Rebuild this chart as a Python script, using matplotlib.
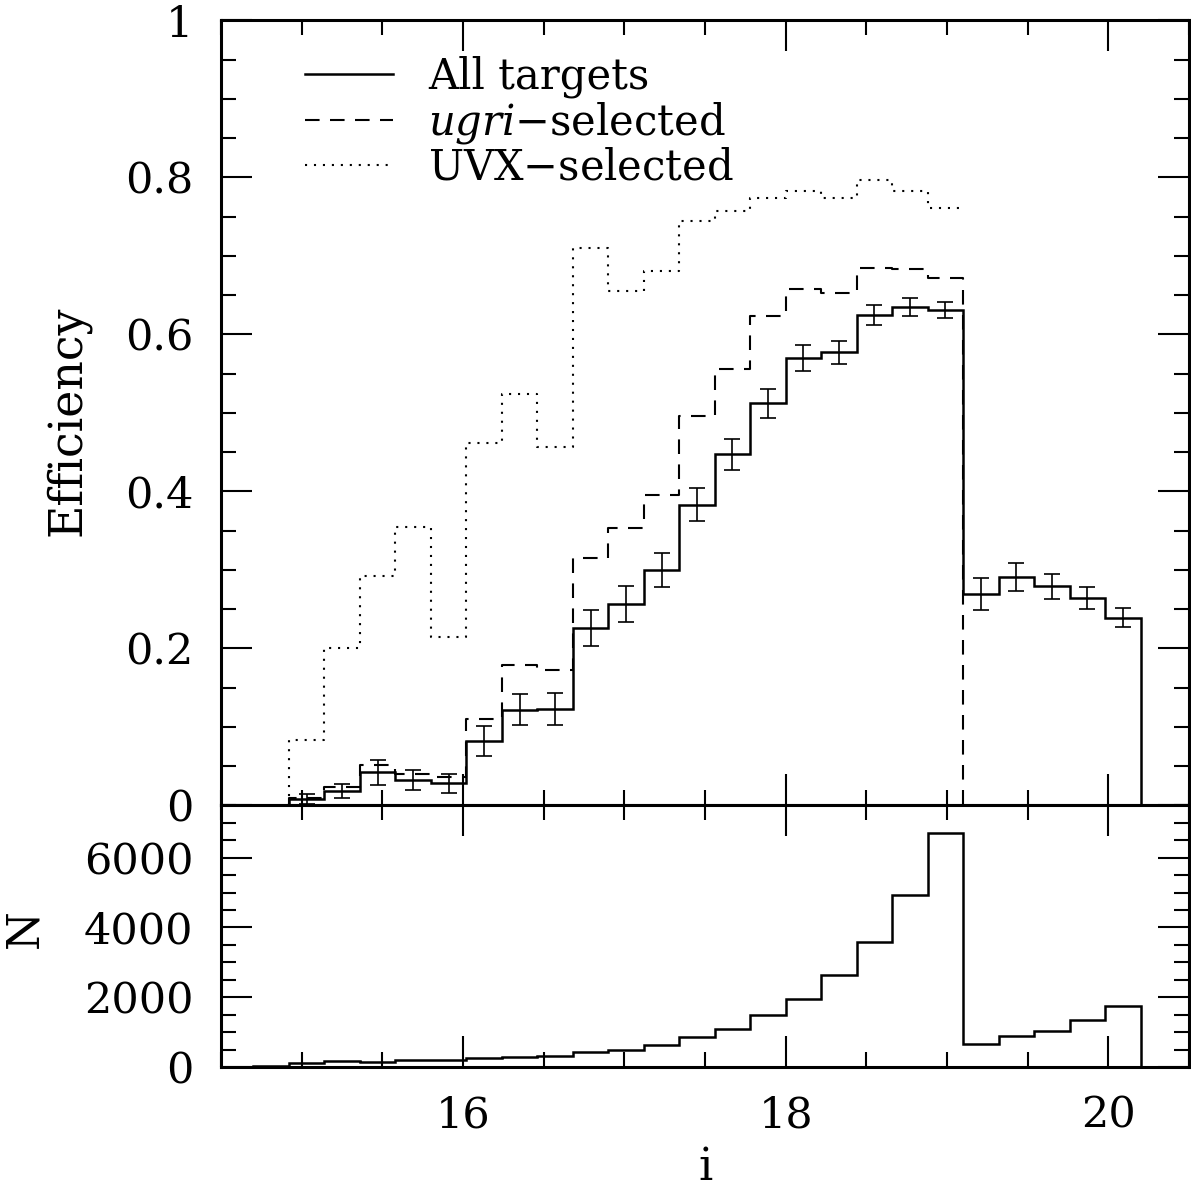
import numpy as np
import matplotlib.pyplot as plt
from matplotlib.ticker import MultipleLocator, FixedLocator, NullFormatter

plt.rcParams['font.family'] = ['DejaVu Serif']
plt.rcParams['mathtext.fontset'] = 'dejavuserif'

# i-magnitude bin edges (0.22 mag wide)
edges = [14.70, 14.92, 15.14, 15.36, 15.58, 15.80, 16.02, 16.24, 16.46, 16.68,
         16.90, 17.12, 17.34, 17.56, 17.78, 18.00, 18.22, 18.44, 18.66, 18.88,
         19.10, 19.32, 19.54, 19.76, 19.98, 20.20]

# number of targets per bin
n_targets = [30, 124, 172, 144, 191, 210, 258, 287, 316, 430, 478, 622, 861,
             1091, 1502, 1952, 2641, 3589, 4928, 6718, 651, 900, 1034, 1349, 1751]

# efficiency, all targets (bins from 14.92 to 20.20)
eff_all = [0.008, 0.018, 0.042, 0.032, 0.028, 0.082, 0.122, 0.123, 0.226, 0.256,
           0.300, 0.383, 0.447, 0.512, 0.570, 0.577, 0.625, 0.635, 0.631,
           0.269, 0.291, 0.279, 0.264, 0.239]
err_all = [0.006, 0.009, 0.016, 0.013, 0.012, 0.019, 0.020, 0.020, 0.023, 0.023,
           0.022, 0.021, 0.020, 0.018, 0.017, 0.015, 0.013, 0.011, 0.010,
           0.020, 0.018, 0.016, 0.014, 0.012]

# ugri- and UVX-selected efficiency (bins from 14.92 to 19.10)
eff_ugri = [0.010, 0.023, 0.051, 0.040, 0.036, 0.110, 0.179, 0.173, 0.315, 0.353,
            0.395, 0.496, 0.556, 0.623, 0.658, 0.653, 0.684, 0.683, 0.672]
eff_uvx = [0.083, 0.200, 0.292, 0.354, 0.214, 0.462, 0.524, 0.456, 0.710, 0.655,
           0.681, 0.744, 0.757, 0.774, 0.783, 0.774, 0.797, 0.783, 0.761]


def steps(e, v, start=0.0, end=None):
    # histogram outline: rises from `start` at the first edge, optional drop at the end
    e = np.asarray(e, float)
    v = np.asarray(v, float)
    x = np.repeat(e, 2)[1:-1]
    y = np.repeat(v, 2)
    x = np.r_[e[0], x]
    y = np.r_[start, y]
    if end is not None:
        x = np.r_[x, e[-1]]
        y = np.r_[y, end]
    return x, y


e_eff = edges[1:]
e_sel = edges[1:21]
centers = (np.array(e_eff[:-1]) + np.array(e_eff[1:])) / 2

fig = plt.figure(figsize=(11.91, 11.91), dpi=100)
ax1 = fig.add_axes([0.1856, 0.3238, 0.8128, 0.6591])
ax2 = fig.add_axes([0.1856, 0.1041, 0.8128, 0.2197])

lw = 1.8
x, y = steps(e_eff, eff_all, 0.0, 0.0)
ax1.plot(x, y, color='k', lw=lw, solid_joinstyle='miter', label='All targets')
ax1.errorbar(centers, eff_all, yerr=err_all, fmt='none', ecolor='k',
             elinewidth=1.2, capsize=6, capthick=1.2)
x, y = steps(e_sel, eff_ugri, 0.0, 0.0)
ax1.plot(x, y, color='k', lw=1.5, linestyle=(0, (7, 5)),
         label=r'$ugri$$-$selected')
x, y = steps(e_sel, eff_uvx, 0.0, None)
ax1.plot(x, y, color='k', lw=1.5, linestyle=(0, (1, 3.3)),
         label=r'UVX$-$selected')

x, y = steps(edges, n_targets, 0.0, 0.0)
ax2.plot(x, y, color='k', lw=lw, solid_joinstyle='miter')

for ax in (ax1, ax2):
    ax.set_xlim(14.5, 20.5)
    ax.xaxis.set_major_locator(MultipleLocator(2))
    ax.xaxis.set_minor_locator(MultipleLocator(0.5))
    ax.tick_params(which='both', direction='in', top=True, right=True,
                   labelsize=31, width=1.5)
    ax.tick_params(which='major', length=22, pad=20)
    ax.tick_params(which='minor', length=11)
    for s in ax.spines.values():
        s.set_linewidth(2.2)

ax1.set_ylim(0, 1)
ax1.yaxis.set_major_locator(FixedLocator([0, 0.2, 0.4, 0.6, 0.8, 1.0]))
ax1.set_yticklabels(['0', '0.2', '0.4', '0.6', '0.8', '1'])
ax1.yaxis.set_minor_locator(MultipleLocator(0.05))
ax1.xaxis.set_major_formatter(NullFormatter())

ax2.set_ylim(0, 7500)
ax2.yaxis.set_major_locator(MultipleLocator(2000))
ax2.yaxis.set_minor_locator(MultipleLocator(500))

ax1.set_ylabel('Efficiency', fontsize=33)
ax1.yaxis.set_label_coords(-0.135, 0.49)
ax2.set_ylabel('N', fontsize=32)
ax2.yaxis.set_label_coords(-0.18, 0.53)
ax2.set_xlabel('i', fontsize=32)
ax2.xaxis.set_label_coords(0.5, -0.30)

ax1.legend(loc='upper left', bbox_to_anchor=(0.07, 0.976), frameon=False,
           fontsize=30, handlelength=2.1, handletextpad=0.85,
           labelspacing=0.03, borderaxespad=0)

fig.savefig('out.png', dpi=100)
